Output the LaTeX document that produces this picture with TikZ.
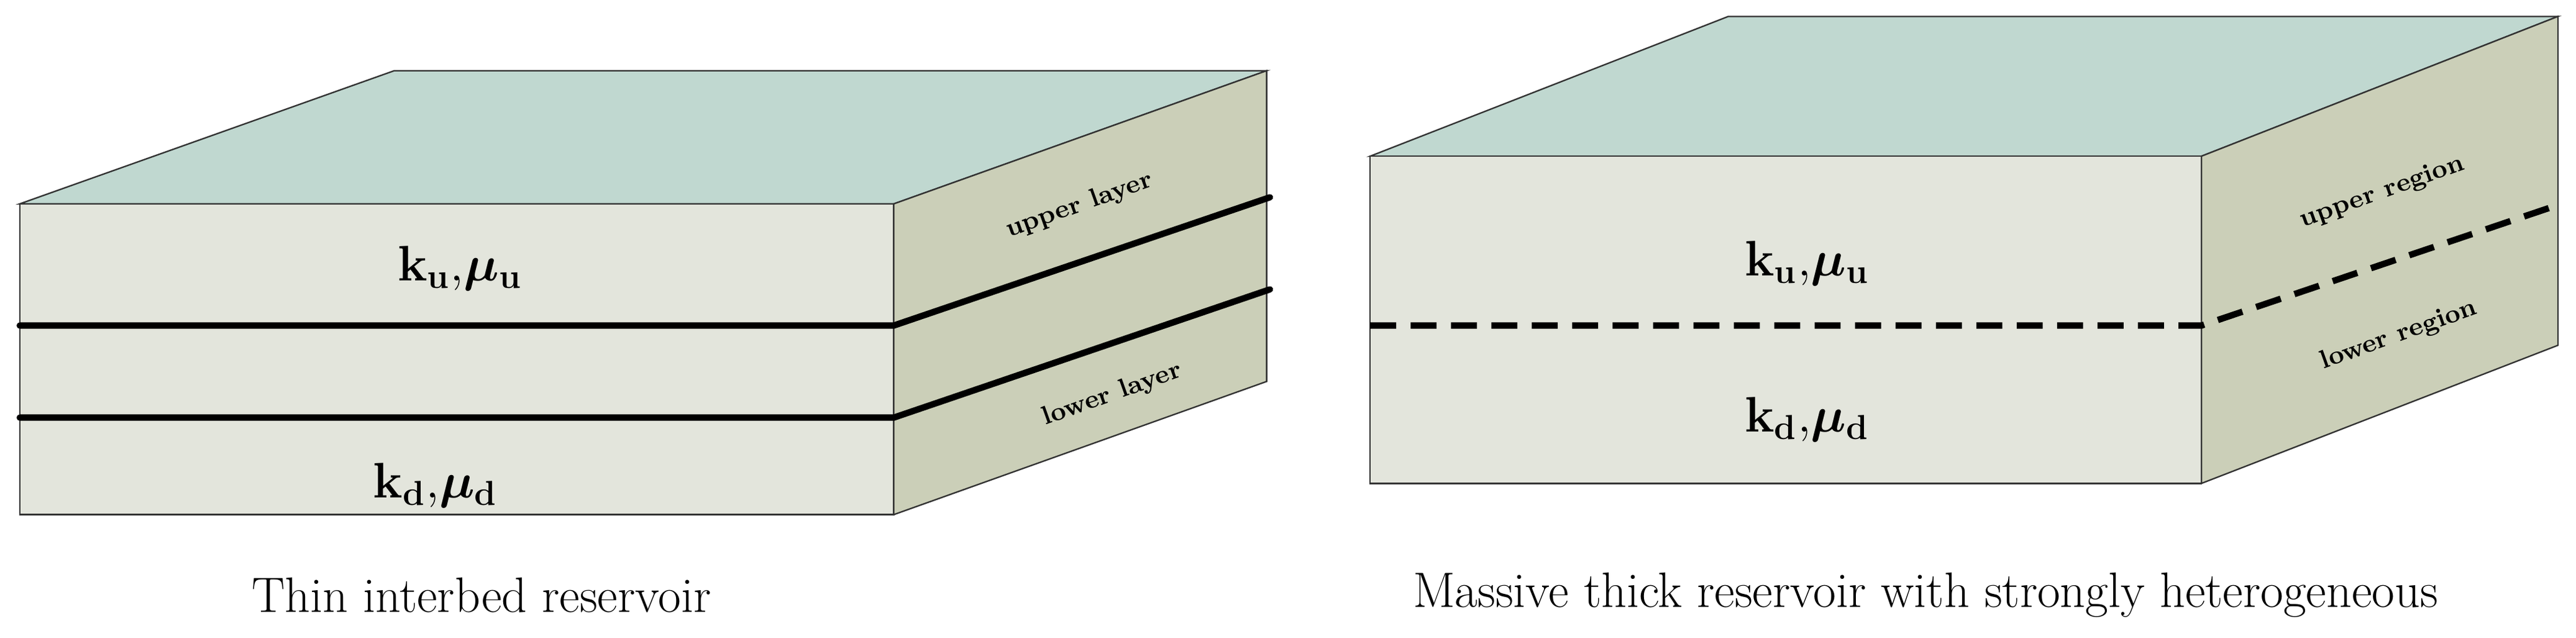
\documentclass[tikz,border=0pt]{standalone}
\usepackage{amsmath,bm}
\begin{document}
\begin{tikzpicture}[x=0.02cm,y=-0.02cm,
  topf/.style={fill={rgb,255:red,192;green,216;blue,208},draw=black!80,line width=0.5pt},
  frontf/.style={fill={rgb,255:red,227;green,229;blue,220},draw=black!80,line width=0.5pt},
  sidef/.style={fill={rgb,255:red,203;green,207;blue,184},draw=black!80,line width=0.5pt},
  sep/.style={line width=2.2pt,line cap=round},
  big/.style={font=\fontsize{17}{20}\selectfont},
  side/.style={font=\fontsize{9}{11}\selectfont\bfseries,rotate=19.6,inner sep=1pt},
  captxt/.style={font=\fontsize{17.2}{20}\selectfont}]
\useasboundingbox (0,0) rectangle (1568,388);
% left box
\draw[topf] (12,124) -- (240,43) -- (771,43) -- (544,124) -- cycle;
\draw[frontf] (12,124) rectangle (544,313);
\draw[sidef] (544,124) -- (771,43) -- (771,232) -- (544,313) -- cycle;
\coordinate (l1a) at (12,198); \coordinate (l1b) at (544,198); \coordinate (l1c) at (773,120);
\coordinate (l2a) at (12,254); \coordinate (l2b) at (544,254); \coordinate (l2c) at (773,176);
\draw[sep] (l1a) -- (l1b) -- (l1c);
\draw[sep] (l2a) -- (l2b) -- (l2c);
\node[big] (ku) at (280,163) {$\mathbf{k}_{\mathbf{u}}\mathbf{,}\bm{\mu}_{\mathbf{u}}$};
\node[big] (kd) at (265,295) {$\mathbf{k}_{\mathbf{d}}\mathbf{,}\bm{\mu}_{\mathbf{d}}$};
\node[side] (ul) at (657,125) {upper layer};
\node[side] (ll) at (677,240) {lower layer};
\node[captxt] (c1) at (293,362) {Thin interbed reservoir};
% right box
\draw[topf] (834,95) -- (1052,10) -- (1557,10) -- (1340,95) -- cycle;
\draw[frontf] (834,95) rectangle (1340,294);
\draw[sidef] (1340,95) -- (1557,10) -- (1557,210) -- (1340,294) -- cycle;
\coordinate (d1) at (834,198); \coordinate (d2) at (1340,198); \coordinate (d3) at (1559,124);
\draw[sep,line cap=butt,dash pattern=on 9pt off 5pt] (d1) -- (d2) -- (d3);
\node[big] (ku2) at (1100,160) {$\mathbf{k}_{\mathbf{u}}\mathbf{,}\bm{\mu}_{\mathbf{u}}$};
\node[big] (kd2) at (1100,255) {$\mathbf{k}_{\mathbf{d}}\mathbf{,}\bm{\mu}_{\mathbf{d}}$};
\node[side] (ur) at (1450,117) {upper region};
\node[side] (lr) at (1460,204) {lower region};
\node[captxt] (c2) at (1172,362) {Massive thick reservoir with strongly heterogeneous};
\end{tikzpicture}
\end{document}
